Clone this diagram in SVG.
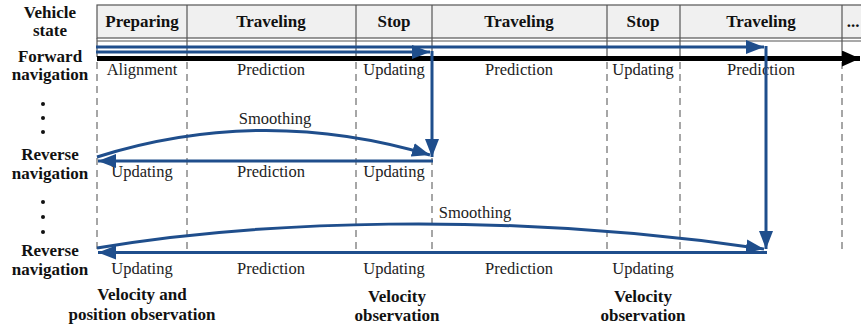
<svg xmlns="http://www.w3.org/2000/svg" width="861" height="330" viewBox="0 0 861 330">
<defs>
<style>
.b{font-family:"Liberation Serif","Times New Roman",serif;font-weight:bold;font-size:17px;fill:#111;text-anchor:middle}
.r{font-family:"Liberation Serif","Times New Roman",serif;font-size:16.5px;fill:#222;text-anchor:middle}
.tl{stroke:#555;stroke-width:1.2;fill:none}
.dash{stroke:#777;stroke-width:1.3;stroke-dasharray:7,5;fill:none}
.blue{stroke:#1f4e8c;stroke-width:3;fill:none}
</style>
<marker id="ab" markerUnits="userSpaceOnUse" markerWidth="20" markerHeight="14" refX="18" refY="7" orient="auto">
<path d="M0,0 L18,7 L0,14 z" fill="#1f4e8c"/>
</marker>
<marker id="ak" markerUnits="userSpaceOnUse" markerWidth="20" markerHeight="16" refX="18" refY="8" orient="auto">
<path d="M0,0 L18,8 L0,16 z" fill="#000"/>
</marker>
</defs>
<rect width="861" height="330" fill="#fff"/>
<g id="table">
<rect x="97" y="5" width="770" height="33" fill="#f0f0f0" stroke="#555" stroke-width="1.2"/>
<line class="tl" x1="97" y1="41" x2="861" y2="41"/>
<line class="tl" x1="97" y1="38" x2="97" y2="57"/>
<line class="tl" x1="187" y1="5" x2="187" y2="57"/>
<line class="tl" x1="356" y1="5" x2="356" y2="57"/>
<line class="tl" x1="432" y1="5" x2="432" y2="57"/>
<line class="tl" x1="607" y1="5" x2="607" y2="57"/>
<line class="tl" x1="680" y1="5" x2="680" y2="57"/>
<line class="tl" x1="842" y1="5" x2="842" y2="57"/>
<text class="b" x="142" y="27">Preparing</text>
<text class="b" x="271" y="27">Traveling</text>
<text class="b" x="394" y="27">Stop</text>
<text class="b" x="519" y="27">Traveling</text>
<text class="b" x="643" y="27">Stop</text>
<text class="b" x="761" y="27">Traveling</text>
<text class="b" x="853" y="27">...</text>
</g>
<g id="grid">
<line class="dash" x1="97" y1="62" x2="97" y2="252"/>
<line class="dash" x1="187" y1="62" x2="187" y2="252"/>
<line class="dash" x1="356" y1="62" x2="356" y2="252"/>
<line class="dash" x1="432" y1="62" x2="432" y2="252"/>
<line class="dash" x1="607" y1="62" x2="607" y2="250"/>
<line class="dash" x1="680" y1="62" x2="680" y2="252"/>
<line class="dash" x1="842" y1="62" x2="842" y2="250"/>
</g>
<g id="row-labels">
<text class="b" x="50" y="18">Vehicle</text>
<text class="b" x="50" y="36">state</text>
<text class="b" x="50" y="62">Forward</text>
<text class="b" x="50" y="80">navigation</text>
<circle cx="43" cy="104" r="2" fill="#111"/>
<circle cx="43" cy="118" r="2" fill="#111"/>
<circle cx="43" cy="132" r="2" fill="#111"/>
<text class="b" x="50" y="160">Reverse</text>
<text class="b" x="50" y="179">navigation</text>
<circle cx="43" cy="202" r="2" fill="#111"/>
<circle cx="43" cy="217" r="2" fill="#111"/>
<circle cx="43" cy="232" r="2" fill="#111"/>
<text class="b" x="50" y="256">Reverse</text>
<text class="b" x="50" y="275">navigation</text>
</g>
<g id="forward">
<text class="r" x="142" y="75">Alignment</text>
<text class="r" x="271" y="75">Prediction</text>
<text class="r" x="394" y="75">Updating</text>
<text class="r" x="519" y="75">Prediction</text>
<text class="r" x="643" y="75">Updating</text>
<text class="r" x="761" y="75">Prediction</text>
</g>
<g id="reverse1">
<text class="r" x="275" y="124">Smoothing</text>
<text class="r" x="142" y="177">Updating</text>
<text class="r" x="271" y="177">Prediction</text>
<text class="r" x="394" y="177">Updating</text>
</g>
<g id="reverse2">
<text class="r" x="475" y="218">Smoothing</text>
<text class="r" x="142" y="274">Updating</text>
<text class="r" x="271" y="274">Prediction</text>
<text class="r" x="394" y="274">Updating</text>
<text class="r" x="519" y="274">Prediction</text>
<text class="r" x="643" y="274">Updating</text>
</g>
<g id="observations">
<text class="b" x="142" y="300">Velocity and</text>
<text class="b" x="142" y="320">position observation</text>
<text class="b" x="397" y="302">Velocity</text>
<text class="b" x="397" y="321">observation</text>
<text class="b" x="643" y="302">Velocity</text>
<text class="b" x="643" y="321">observation</text>
</g>
<g id="connectors">
<line x1="97" y1="58.5" x2="860" y2="58.5" stroke="#000" stroke-width="5" marker-end="url(#ak)"/>
<line class="blue" x1="96" y1="47" x2="764" y2="47" marker-end="url(#ab)"/>
<line class="blue" x1="96" y1="52" x2="430" y2="52" marker-end="url(#ab)"/>
<line class="blue" x1="432" y1="51" x2="432" y2="157" marker-end="url(#ab)"/>
<line class="blue" x1="766" y1="46" x2="766" y2="249" marker-end="url(#ab)"/>
<line class="blue" x1="433" y1="161" x2="98" y2="161" marker-end="url(#ab)"/>
<path class="blue" d="M97,157 Q262,105 430,155" marker-end="url(#ab)"/>
<line class="blue" x1="767" y1="252.5" x2="98" y2="252.5" marker-end="url(#ab)"/>
<path class="blue" d="M97,248 C250,222 500,210 764,249" marker-end="url(#ab)"/>
</g>
</svg>
